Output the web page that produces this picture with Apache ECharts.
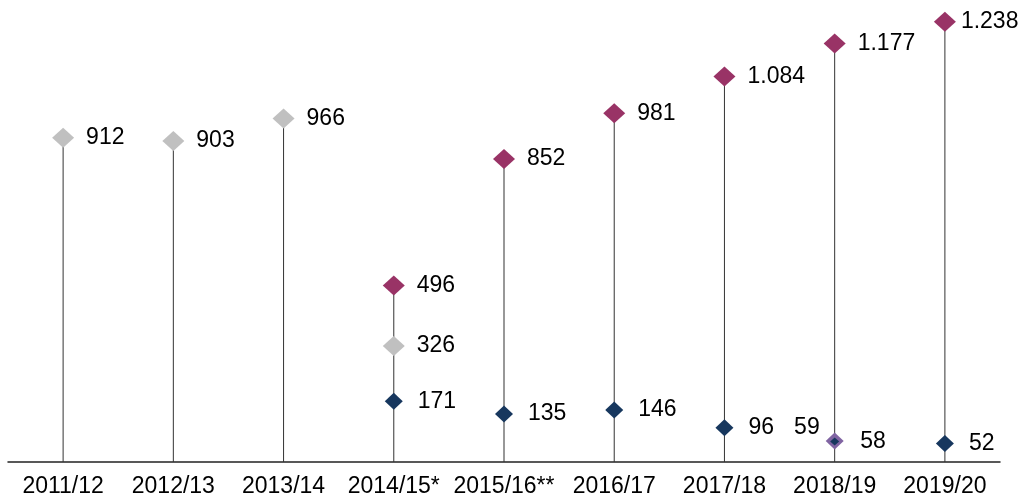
<!DOCTYPE html>
<html lang="de">
<head>
  <meta charset="UTF-8">
  <title>Lollipop</title>
  <style>
    body { margin: 0; background: #fff; }
    #chart { width: 1021px; height: 498px; }
  </style>
  <script src="https://cdn.jsdelivr.net/npm/echarts@6/dist/echarts.min.js"></script>
</head>
<body>
<div id="chart"></div>
<script>
  // Daten
  var categories = ['2011/12', '2012/13', '2013/14', '2014/15*', '2015/16**', '2016/17', '2017/18', '2018/19', '2019/20'];
  var grauWerte    = [912, 903, 966, 326, null, null, null, null, null];
  var magentaWerte = [null, null, null, 496, 852, 981, 1084, 1177, 1238];
  var navyWerte    = [null, null, null, 171, 135, 146, 96, 58, 52];
  var lilaWerte    = [null, null, null, null, null, null, null, 59, null];

  var font = 'Liberation Sans, Arial, sans-serif';

  function fmt(v) {
    return String(v).replace(/\B(?=(\d{3})+(?!\d))/g, '.');
  }

  // hoechster Wert je Kategorie fuer die Stiele
  var stiele = categories.map(function (c, i) {
    var vals = [grauWerte[i], magentaWerte[i], navyWerte[i], lilaWerte[i]].filter(function (v) { return v != null; });
    return Math.max.apply(null, vals);
  });

  function toData(arr) {
    return arr.map(function (v) { return v == null ? '-' : v; });
  }

  function labelCfg(dist) {
    return {
      show: true,
      position: 'right',
      distance: dist,
      color: '#000',
      fontFamily: font,
      fontSize: 23,
      formatter: function (p) { return fmt(p.value); }
    };
  }

  var magentaData = toData(magentaWerte).map(function (v, i) {
    if (i === magentaWerte.length - 1) return { value: v, label: { distance: 5 } };
    return v;
  });
  var navyData = toData(navyWerte).map(function (v, i) {
    // kleiner Marker bei 2018/19
    if (i === 7) return { value: v, symbolSize: [9, 8], label: { distance: 21 } };
    return v;
  });

  var myChart = echarts.init(document.getElementById('chart'));
  var option = {
    animation: false,
    grid: { left: 8, right: 21, top: 17.5, bottom: 33 },
    xAxis: {
      type: 'category',
      data: categories,
      axisLine: { lineStyle: { color: '#222', width: 1.5 } },
      axisTick: { show: false },
      axisLabel: { color: '#000', fontFamily: font, fontSize: 23, margin: 13, interval: 0 }
    },
    yAxis: {
      type: 'value',
      min: 0,
      max: 1250,
      show: false
    },
    series: [
      {
        type: 'bar',
        data: stiele,
        barWidth: 1,
        itemStyle: { color: '#333' },
        z: 1,
        silent: true
      },
      {
        type: 'scatter',
        data: toData(grauWerte),
        symbol: 'diamond',
        symbolSize: [22, 20],
        itemStyle: { color: '#c0c0c0', opacity: 1 },
        label: labelCfg(12),
        z: 3
      },
      {
        type: 'scatter',
        data: magentaData,
        symbol: 'diamond',
        symbolSize: [22, 20],
        itemStyle: { color: '#993366', opacity: 1 },
        label: labelCfg(12),
        z: 3
      },
      {
        type: 'scatter',
        data: toData(lilaWerte),
        symbol: 'diamond',
        symbolSize: [18, 17],
        itemStyle: { color: '#8064a2', opacity: 1 },
        label: {
          show: true,
          position: 'left',
          distance: 6,
          offset: [0, -13],
          color: '#000',
          fontFamily: font,
          fontSize: 23
        },
        z: 3
      },
      {
        type: 'scatter',
        data: navyData,
        symbol: 'diamond',
        symbolSize: [18, 17],
        itemStyle: { color: '#17375e', opacity: 1 },
        label: labelCfg(15),
        z: 4
      }
    ]
  };
  myChart.setOption(option);
</script>
</body>
</html>
